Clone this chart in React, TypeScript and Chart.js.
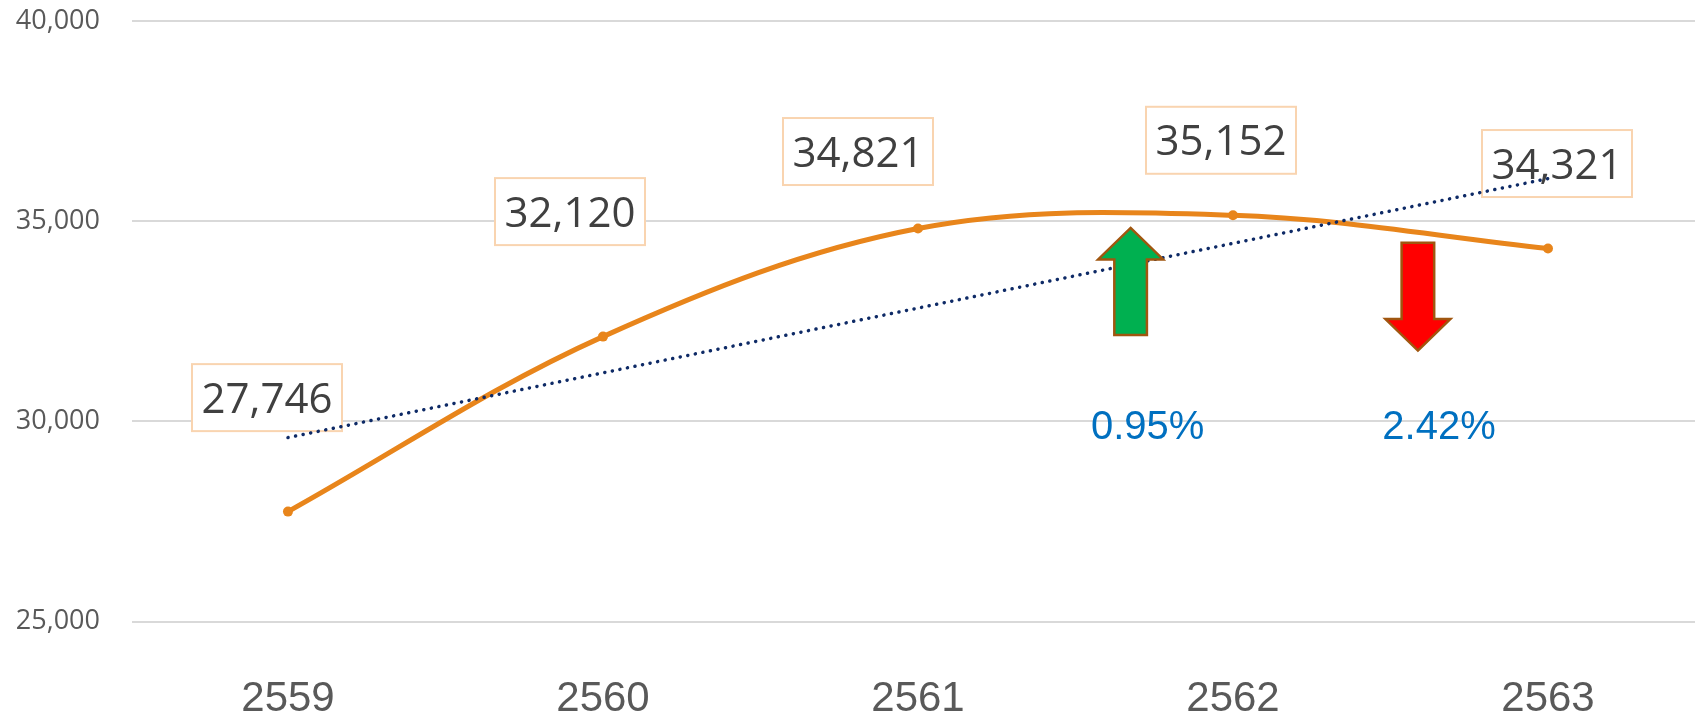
import React, { useEffect, useRef } from 'react';
import { Chart, registerables } from 'chart.js';

Chart.register(...registerables);

// ---- data ----
const categories = ['2559', '2560', '2561', '2562', '2563'];
const values = [27746, 32120, 34821, 35152, 34321];
// dotted linear trend line, value at first and last category
const trendValues = [29596, 36068];
const yTickValues = [25000, 30000, 35000, 40000];
const changeTexts = ['0.95%', '2.42%'];

// ---- layout / style config (not data) ----
const W = 1695;
const H = 722;
const labelOffsets = [
  [-21, -114],
  [-33, -125],
  [-60, -77],
  [-12, -75],
  [9, -85],
];
// positions in axis units (x = category index, y = value)
const changeTextPos = [
  [2.729, 29912],
  [3.654, 29912],
];
const arrowDefs = [
  { x: 2.675, tail: 32162, tip: 34835, fill: '#00B050' },
  { x: 3.587, tail: 34467, tip: 31770, fill: '#FF0000' },
];

const ORANGE = '#E8851B';

const overlayPlugin = {
  id: 'overlay',
  beforeDatasetsDraw(chart: any) {
    const ctx = chart.ctx as CanvasRenderingContext2D;
    const meta = chart.getDatasetMeta(1);
    ctx.save();
    const fs = 42;
    ctx.font = `${fs}px "Open Sans"`;
    ctx.textAlign = 'center';
    ctx.textBaseline = 'alphabetic';
    meta.data.forEach((pt: any, i: number) => {
      const cx = pt.x + labelOffsets[i][0];
      const cy = pt.y + labelOffsets[i][1];
      const bw = 150;
      const bh = 67;
      ctx.fillStyle = '#FFFFFF';
      ctx.fillRect(cx - bw / 2, cy - bh / 2, bw, bh);
      ctx.strokeStyle = '#F9D4B0';
      ctx.lineWidth = 2;
      ctx.strokeRect(cx - bw / 2, cy - bh / 2, bw, bh);
      ctx.fillStyle = '#404040';
      ctx.fillText(values[i].toLocaleString('en-US'), cx, cy + fs * 0.357);
    });
    ctx.restore();
  },
  afterDatasetsDraw(chart: any) {
    const ctx = chart.ctx as CanvasRenderingContext2D;
    const xs = chart.scales.x;
    const ys = chart.scales.y;
    ctx.save();
    arrowDefs.forEach((a) => {
      const cx = xs.getPixelForValue(a.x);
      const yTip = ys.getPixelForValue(a.tip);
      const yTail = ys.getPixelForValue(a.tail);
      const dir = yTip > yTail ? 1 : -1;
      const headLen = 31.5;
      const hw = 32.5;
      const sw = 16.3;
      const base = yTip - dir * headLen;
      ctx.beginPath();
      ctx.moveTo(cx, yTip);
      ctx.lineTo(cx + hw, base);
      ctx.lineTo(cx + sw, base);
      ctx.lineTo(cx + sw, yTail);
      ctx.lineTo(cx - sw, yTail);
      ctx.lineTo(cx - sw, base);
      ctx.lineTo(cx - hw, base);
      ctx.closePath();
      ctx.fillStyle = a.fill;
      ctx.fill();
      ctx.strokeStyle = '#A0560F';
      ctx.lineWidth = 2.5;
      ctx.lineJoin = 'miter';
      ctx.stroke();
    });
    const pfs = 40;
    ctx.font = `${pfs}px "Liberation Sans", Arial, sans-serif`;
    ctx.fillStyle = '#0070C0';
    ctx.textAlign = 'center';
    ctx.textBaseline = 'alphabetic';
    changeTexts.forEach((t, i) => {
      const px = xs.getPixelForValue(changeTextPos[i][0]);
      const py = ys.getPixelForValue(changeTextPos[i][1]);
      ctx.fillText(t, px, py + pfs * 0.358);
    });
    ctx.restore();
  },
};

export default function App() {
  const canvasRef = useRef<HTMLCanvasElement | null>(null);

  useEffect(() => {
    document.body.style.margin = '0';
    document.body.style.overflow = 'hidden';
    const canvas = canvasRef.current;
    if (!canvas) return;
    const chart = new Chart(canvas, {
      type: 'line',
      data: {
        datasets: [
          {
            label: 'Trend',
            data: [
              { x: 0, y: trendValues[0] },
              { x: categories.length - 1, y: trendValues[1] },
            ],
            borderColor: '#0E2A66',
            borderWidth: 3.5,
            borderDash: [0.1, 7.6],
            borderCapStyle: 'round',
            pointRadius: 0,
            tension: 0,
            fill: false,
            order: 0,
          },
          {
            label: 'Value',
            data: values.map((v, i) => ({ x: i, y: v })),
            borderColor: ORANGE,
            backgroundColor: ORANGE,
            pointBackgroundColor: ORANGE,
            pointBorderColor: ORANGE,
            borderWidth: 5,
            pointRadius: 5,
            pointBorderWidth: 0,
            tension: 0.35,
            fill: false,
            order: 1,
          },
        ],
      },
      options: {
        animation: false,
        responsive: false,
        maintainAspectRatio: false,
        layout: { autoPadding: false, padding: { top: 21.3, right: 0, bottom: 0, left: 0 } },
        plugins: {
          legend: { display: false },
          tooltip: { enabled: false },
        },
        scales: {
          x: {
            type: 'linear',
            min: -0.4952,
            max: 4.4667,
            grid: { display: false, drawTicks: false },
            border: { display: false },
            afterBuildTicks: (scale: any) => {
              scale.ticks = categories.map((_, i) => ({ value: i }));
            },
            afterFit: (scale: any) => {
              scale.height = H - 621.5;
              scale.paddingLeft = 0;
              scale.paddingRight = 0;
              scale.paddingTop = 0;
              scale.paddingBottom = 0;
            },
            ticks: {
              padding: 53,
              color: '#595959',
              font: { family: '"Liberation Sans", Arial, sans-serif', size: 42 },
              maxRotation: 0,
              autoSkip: false,
              callback: (v: any) => categories[Math.round(Number(v))] ?? '',
            },
          },
          y: {
            type: 'linear',
            min: yTickValues[0],
            max: yTickValues[yTickValues.length - 1],
            afterBuildTicks: (scale: any) => {
              scale.ticks = yTickValues.map((v) => ({ value: v }));
            },
            afterFit: (scale: any) => {
              scale.width = 132;
              scale.paddingTop = 0;
              scale.paddingBottom = 0;
              scale.paddingLeft = 0;
              scale.paddingRight = 0;
            },
            grid: { color: '#D9D9D9', lineWidth: 2, drawTicks: false },
            border: { display: false },
            ticks: {
              padding: 32,
              color: '#595959',
              font: { family: '"Open Sans"', size: 27 },
              callback: (v: any) => Number(v).toLocaleString('en-US'),
            },
          },
        },
      },
      plugins: [overlayPlugin],
    } as any);
    return () => chart.destroy();
  }, []);

  return (
    <div style={{ width: W, height: H, position: 'relative' }}>
      <canvas ref={canvasRef} width={W} height={H} style={{ display: 'block', width: W, height: H }} />
    </div>
  );
}
